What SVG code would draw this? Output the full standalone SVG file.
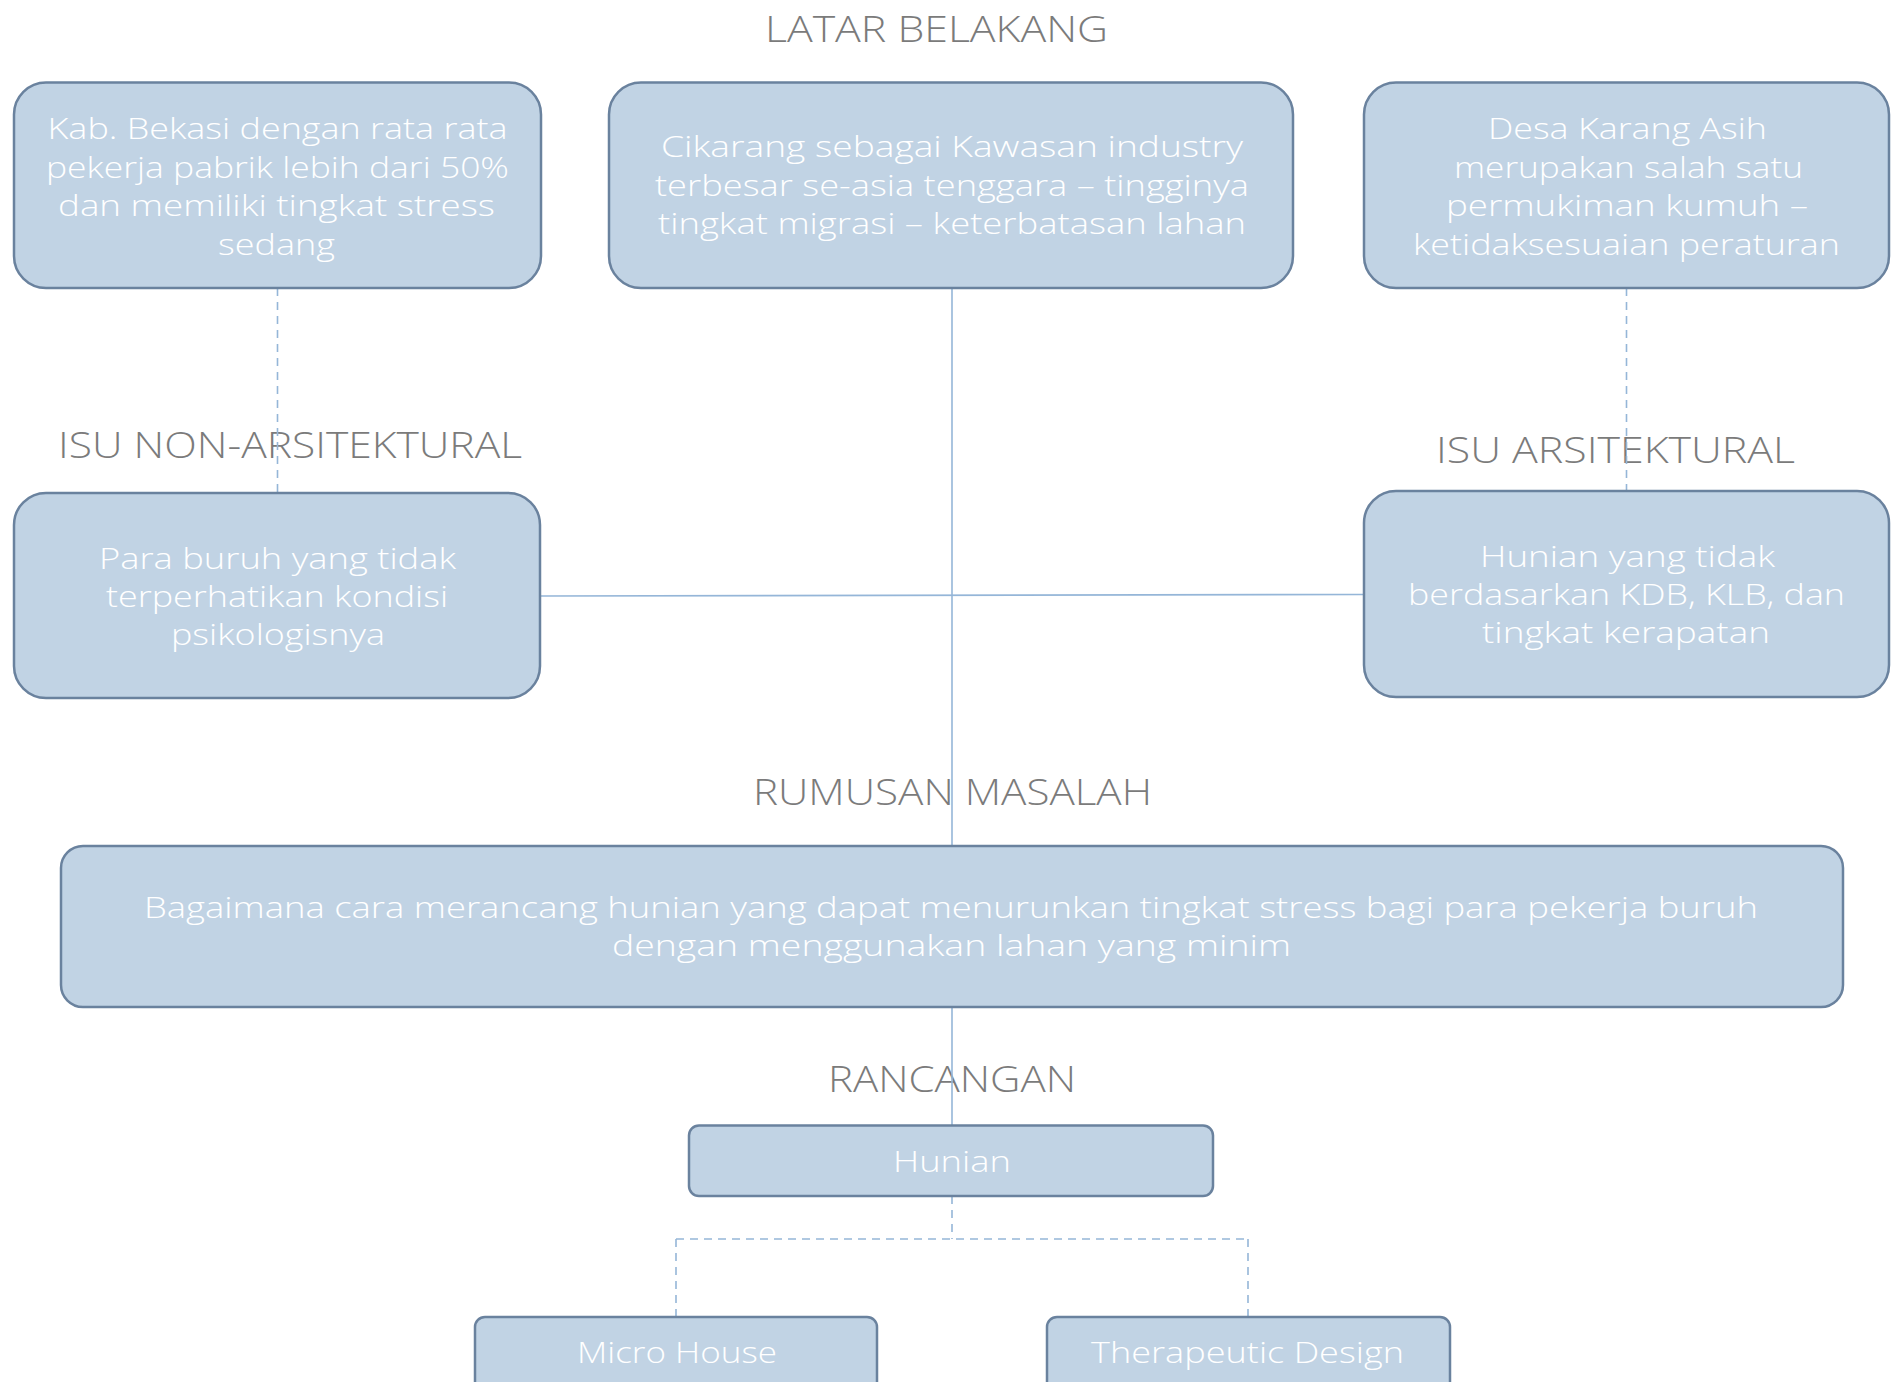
<svg xmlns="http://www.w3.org/2000/svg" width="1899" height="1382" viewBox="0 0 1899 1382">
  <style>
    .box { fill: #c1d3e4; stroke: #6a829e; stroke-width: 2.5; }
    .txt { font-family: "Open Sans", "Noto Sans", "Liberation Sans", sans-serif; font-weight: 300; font-size: 30px; fill: #ffffff; text-anchor: middle; }
    .head { font-family: "Open Sans", "Noto Sans", "Liberation Sans", sans-serif; font-weight: 300; font-size: 36px; fill: #7b7b7b; text-anchor: middle; }
    .solid { stroke: #95b6d8; stroke-width: 1.6; fill: none; }
    .dash { stroke: #95b6d8; stroke-width: 1.6; fill: none; stroke-dasharray: 8 6; }
  </style>

  <rect width="1899" height="1382" fill="#ffffff"/>

  <!-- section headings -->
  <g id="headings">
    <text class="head" x="936.5" y="41.5" textLength="343" lengthAdjust="spacingAndGlyphs">LATAR BELAKANG</text>
    <text class="head" x="290" y="458" textLength="464" lengthAdjust="spacingAndGlyphs">ISU NON-ARSITEKTURAL</text>
    <text class="head" x="1615.5" y="463" textLength="359" lengthAdjust="spacingAndGlyphs">ISU ARSITEKTURAL</text>
    <text class="head" x="952.5" y="805" textLength="399" lengthAdjust="spacingAndGlyphs">RUMUSAN MASALAH</text>
    <text class="head" x="952" y="1092" textLength="248" lengthAdjust="spacingAndGlyphs">RANCANGAN</text>
  </g>

  <!-- connectors -->
  <g id="connectors">
    <line class="dash" x1="277.5" y1="288" x2="277.5" y2="493"/>
    <line class="dash" x1="1626.5" y1="288" x2="1626.5" y2="491"/>
    <line class="solid" x1="540" y1="596" x2="1364" y2="594.5"/>
    <line class="solid" x1="952" y1="288" x2="952" y2="846"/>
    <line class="solid" x1="952" y1="1007" x2="952" y2="1125"/>
    <path class="dash" d="M952 1196 V1239 M676 1239 H1248 M676 1239 V1317 M1248 1239 V1317"/>
  </g>

  <!-- latar belakang -->
  <g id="node-bekasi">
    <rect class="box" x="14" y="82.5" width="527" height="205.5" rx="32"/>
    <text class="txt" x="277.5" y="139" textLength="460" lengthAdjust="spacingAndGlyphs">Kab. Bekasi dengan rata rata</text>
    <text class="txt" x="277.5" y="177.5" textLength="463" lengthAdjust="spacingAndGlyphs">pekerja pabrik lebih dari 50%</text>
    <text class="txt" x="276.5" y="216" textLength="437" lengthAdjust="spacingAndGlyphs">dan memiliki tingkat stress</text>
    <text class="txt" x="276.5" y="254.5" textLength="117" lengthAdjust="spacingAndGlyphs">sedang</text>
  </g>

  <g id="node-cikarang">
    <rect class="box" x="609" y="82.5" width="684" height="205.5" rx="32"/>
    <text class="txt" x="952" y="157" textLength="582" lengthAdjust="spacingAndGlyphs">Cikarang sebagai  Kawasan industry</text>
    <text class="txt" x="952" y="195.5" textLength="594" lengthAdjust="spacingAndGlyphs">terbesar se-asia tenggara – tingginya</text>
    <text class="txt" x="952" y="234" textLength="588" lengthAdjust="spacingAndGlyphs">tingkat migrasi – keterbatasan lahan</text>
  </g>

  <g id="node-karang-asih">
    <rect class="box" x="1364" y="82.5" width="525" height="205.5" rx="32"/>
    <text class="txt" x="1627.5" y="139" textLength="279" lengthAdjust="spacingAndGlyphs">Desa Karang Asih</text>
    <text class="txt" x="1628.5" y="177.5" textLength="349" lengthAdjust="spacingAndGlyphs">merupakan salah satu</text>
    <text class="txt" x="1627" y="216" textLength="362" lengthAdjust="spacingAndGlyphs">permukiman kumuh –</text>
    <text class="txt" x="1626.5" y="254.5" textLength="427" lengthAdjust="spacingAndGlyphs">ketidaksesuaian peraturan</text>
  </g>

  <!-- isu -->
  <g id="node-non-arsitektural">
    <rect class="box" x="14" y="493" width="526" height="205" rx="32"/>
    <text class="txt" x="277.5" y="569" textLength="357" lengthAdjust="spacingAndGlyphs">Para buruh yang tidak</text>
    <text class="txt" x="277" y="607" textLength="342" lengthAdjust="spacingAndGlyphs">terperhatikan kondisi</text>
    <text class="txt" x="278" y="645" textLength="214" lengthAdjust="spacingAndGlyphs">psikologisnya</text>
  </g>

  <g id="node-arsitektural">
    <rect class="box" x="1364" y="491" width="525" height="206" rx="32"/>
    <text class="txt" x="1627.5" y="567" textLength="295" lengthAdjust="spacingAndGlyphs">Hunian yang tidak</text>
    <text class="txt" x="1626.5" y="605" textLength="437" lengthAdjust="spacingAndGlyphs">berdasarkan KDB, KLB, dan</text>
    <text class="txt" x="1626" y="643" textLength="288" lengthAdjust="spacingAndGlyphs">tingkat kerapatan</text>
  </g>

  <!-- rumusan masalah -->
  <g id="node-rumusan">
    <rect class="box" x="61" y="846" width="1782" height="161" rx="22"/>
    <text class="txt" x="951" y="917.5" textLength="1614" lengthAdjust="spacingAndGlyphs">Bagaimana cara merancang hunian yang dapat menurunkan tingkat stress bagi para pekerja buruh</text>
    <text class="txt" x="951.5" y="955.5" textLength="679" lengthAdjust="spacingAndGlyphs">dengan menggunakan lahan yang minim</text>
  </g>

  <!-- rancangan -->
  <g id="node-hunian">
    <rect class="box" x="689" y="1125.5" width="524" height="70.5" rx="10"/>
    <text class="txt" x="952" y="1172" textLength="118" lengthAdjust="spacingAndGlyphs">Hunian</text>
  </g>

  <g id="node-micro-house">
    <rect class="box" x="475" y="1317" width="402" height="90" rx="10"/>
    <text class="txt" x="677" y="1363" textLength="200" lengthAdjust="spacingAndGlyphs">Micro House</text>
  </g>

  <g id="node-therapeutic">
    <rect class="box" x="1047" y="1317" width="403" height="90" rx="10"/>
    <text class="txt" x="1247.5" y="1363" textLength="313" lengthAdjust="spacingAndGlyphs">Therapeutic Design</text>
  </g>
</svg>
